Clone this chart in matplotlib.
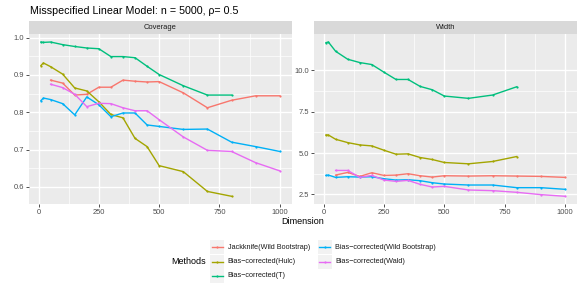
import matplotlib
matplotlib.use("Agg")
import matplotlib.pyplot as plt
from matplotlib.patches import Rectangle
from matplotlib.lines import Line2D
import numpy as np

plt.rcParams['font.family'] = ['Liberation Sans', 'DejaVu Sans']

methods = ["Jackknife(Wild Bootstrap)", "Bias\u2212corrected(Hulc)", "Bias\u2212corrected(T)",
           "Bias\u2212corrected(Wild Bootstrap)", "Bias\u2212corrected(Wald)"]
colors = ["#F8766D", "#A3A500", "#00BF7D", "#00B0F6", "#E76BF3"]

dim_full = [10, 20, 50, 100, 150, 200, 250, 300, 350, 400, 450, 500, 600, 700, 800, 900, 1000]
dim_jk = [50, 100, 150, 200, 250, 300, 350, 400, 450, 500, 600, 700, 800, 900, 1000]
dim_hulc = [10, 20, 50, 100, 150, 200, 250, 300, 350, 400, 450, 500, 600, 700, 800]
dim_t = [10, 20, 50, 100, 150, 200, 250, 300, 350, 400, 450, 500, 600, 700, 800]
dim_wb = dim_full
dim_wald = [50, 100, 150, 200, 250, 300, 350, 400, 450, 500, 600, 700, 800, 900, 1000]

cov_jk = [0.886, 0.878, 0.846, 0.848, 0.867, 0.867, 0.886, 0.883, 0.881, 0.882, 0.852, 0.812, 0.832, 0.844, 0.844]
cov_hulc = [0.925, 0.932, 0.922, 0.902, 0.865, 0.857, 0.828, 0.794, 0.785, 0.730, 0.708, 0.657, 0.641, 0.588, 0.575]
cov_t = [0.988, 0.987, 0.988, 0.981, 0.976, 0.972, 0.970, 0.949, 0.949, 0.946, 0.923, 0.901, 0.871, 0.846, 0.846]
cov_wb = [0.831, 0.838, 0.834, 0.823, 0.793, 0.841, 0.820, 0.788, 0.798, 0.798, 0.766, 0.762, 0.754, 0.755, 0.720, 0.708, 0.695]
cov_wald = [0.875, 0.866, 0.848, 0.815, 0.824, 0.823, 0.812, 0.804, 0.804, 0.780, 0.734, 0.698, 0.695, 0.665, 0.643]

wid_jk = [3.67, 3.83, 3.59, 3.81, 3.65, 3.67, 3.75, 3.63, 3.55, 3.63, 3.61, 3.63, 3.61, 3.59, 3.53]
wid_hulc = [6.09, 6.09, 5.83, 5.63, 5.49, 5.43, 5.17, 4.93, 4.95, 4.73, 4.61, 4.43, 4.35, 4.49, 4.79]
wid_t = [11.66, 11.70, 11.14, 10.66, 10.46, 10.34, 9.88, 9.44, 9.44, 9.02, 8.82, 8.44, 8.30, 8.50, 9.00]
wid_wb = [3.65, 3.67, 3.53, 3.57, 3.55, 3.57, 3.45, 3.37, 3.39, 3.33, 3.21, 3.13, 3.07, 3.07, 2.91, 2.91, 2.81]
wid_wald = [3.95, 3.95, 3.53, 3.65, 3.37, 3.29, 3.35, 3.11, 2.95, 2.99, 2.77, 2.73, 2.63, 2.49, 2.39]

dims = [dim_jk, dim_hulc, dim_t, dim_wb, dim_wald]
coverage = [cov_jk, cov_hulc, cov_t, cov_wb, cov_wald]
width = [wid_jk, wid_hulc, wid_t, wid_wb, wid_wald]

x_ticks = [0, 250, 500, 750, 1000]
cov_ticks = [0.6, 0.7, 0.8, 0.9, 1.0]
wid_ticks = [2.5, 5.0, 7.5, 10.0]

W, H = 581, 291
fig = plt.figure(figsize=(W / 100, H / 100), dpi=100)


def px_axes(l, t, r, b):
    return fig.add_axes([l / W, 1 - b / H, (r - l) / W, (b - t) / H])


def panel(l, r, ys, yticks, ylabels, title):
    ax = px_axes(l, 34.3, r, 204)
    ax.set_facecolor("#EBEBEB")
    for s in ax.spines.values():
        s.set_visible(False)
    allx = [v for d in dims for v in d]
    ally = [v for y in ys for v in y]
    xr = max(allx) - min(allx)
    yr = max(ally) - min(ally)
    ax.set_xlim(min(allx) - 0.05 * xr, max(allx) + 0.05 * xr)
    ax.set_ylim(min(ally) - 0.05 * yr, max(ally) + 0.05 * yr)
    ax.set_xticks(x_ticks)
    ax.set_xticklabels([str(v) for v in x_ticks])
    ax.set_yticks(yticks)
    ax.set_yticklabels(ylabels)
    xm = [(x_ticks[i] + x_ticks[i + 1]) / 2 for i in range(len(x_ticks) - 1)]
    ym = [(yticks[i] + yticks[i + 1]) / 2 for i in range(len(yticks) - 1)]
    ax.set_xticks(xm, minor=True)
    ax.set_yticks(ym, minor=True)
    ax.grid(True, which="major", color="white", linewidth=1.0)
    ax.grid(True, which="minor", color="white", linewidth=0.5)
    ax.set_axisbelow(True)
    ax.tick_params(which="major", length=2.2, width=0.6, color="#333333",
                   labelsize=5.4, labelcolor="#4D4D4D", pad=1.5)
    ax.tick_params(which="minor", length=0)
    for d, y, c in zip(dims, ys, colors):
        ax.plot(d, y, color=c, linewidth=1.0, marker="o", markersize=1.6,
                markeredgewidth=0)
    # strip
    sax = px_axes(l, 20.7, r, 34.3)
    sax.set_facecolor("#D9D9D9")
    for s in sax.spines.values():
        s.set_visible(False)
    sax.set_xticks([])
    sax.set_yticks([])
    sax.text(0.5, 0.5, title, ha="center", va="center", fontsize=5.4, color="#1A1A1A",
             transform=sax.transAxes)
    return ax


ax1 = panel(29, 291.7, coverage, cov_ticks, ["0.6", "0.7", "0.8", "0.9", "1.0"], "Coverage")
ax2 = panel(314, 577, width, wid_ticks, ["2.5", "5.0", "7.5", "10.0"], "Width")

fig.text(30 / W, 1 - 10.5 / H, "Misspecified Linear Model: n = 5000, \u03c1= 0.5",
         ha="left", va="center", fontsize=7.7, color="black")
fig.text(303 / W, 1 - 221.5 / H, "Dimension", ha="center", va="center", fontsize=6.5)

# legend
lax = fig.add_axes([0, 0, 1, 1], facecolor="none")
lax.set_xlim(0, W)
lax.set_ylim(H, 0)
lax.axis("off")
lax.text(171.5, 261.7, "Methods", ha="left", va="center", fontsize=6.5)
key_w, key_h = 14, 14
row_y = [247.3, 261.5, 275.7]
col_x = [210, 317.5]
for i, (m, c) in enumerate(zip(methods, colors)):
    col = 0 if i < 3 else 1
    row = i if i < 3 else i - 3
    kx, ky = col_x[col], row_y[row]
    lax.add_patch(Rectangle((kx, ky - key_h / 2), key_w, key_h, facecolor="#F2F2F2",
                            edgecolor="none"))
    lax.add_line(Line2D([kx + 1.5, kx + key_w - 1.5], [ky, ky], color=c, linewidth=1.0))
    lax.plot([kx + key_w / 2], [ky], marker="o", markersize=1.6, color=c, markeredgewidth=0)
    lax.text(kx + key_w + 3.5, ky, m, ha="left", va="center", fontsize=5.25, color="#1A1A1A")

fig.savefig("out.png", dpi=100)
